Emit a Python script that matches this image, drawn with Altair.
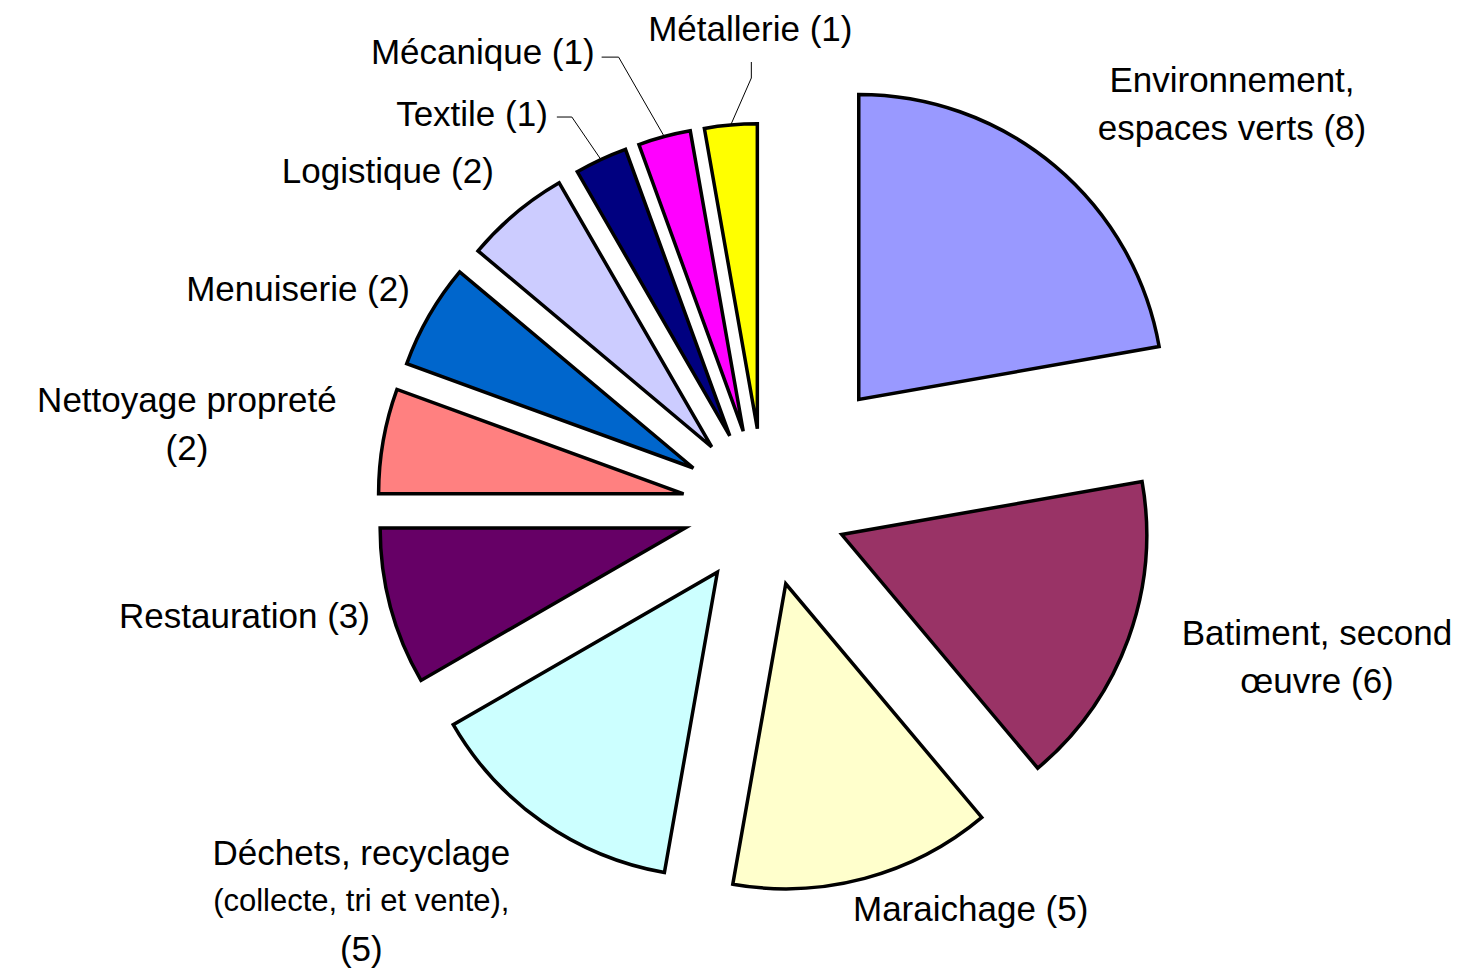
import altair as alt
import pandas as pd
import numpy as np

# ---------------- data ----------------
CATEGORIES = [
    "Environnement, espaces verts",
    "Batiment, second œuvre",
    "Maraichage",
    "Déchets, recyclage (collecte, tri et vente)",
    "Restauration",
    "Nettoyage propreté",
    "Menuiserie",
    "Logistique",
    "Textile",
    "Mécanique",
    "Métallerie",
]
VALUES = [8, 6, 5, 5, 3, 2, 2, 2, 1, 1, 1]
LABEL_LINES = [
    ["Environnement,", "espaces verts ({v})"],
    ["Batiment, second", "œuvre ({v})"],
    ["Maraichage ({v})"],
    ["Déchets, recyclage", "(collecte, tri et vente),", "({v})"],
    ["Restauration ({v})"],
    ["Nettoyage propreté", "({v})"],
    ["Menuiserie ({v})"],
    ["Logistique ({v})"],
    ["Textile ({v})"],
    ["Mécanique ({v})"],
    ["Métallerie ({v})"],
]

# ---------------- styles / layout ----------------
PALETTE = ["#9999FF", "#993366", "#FFFFCC", "#CCFFFF", "#660066", "#FF8080",
           "#0066CC", "#CCCCFF", "#000080", "#FF00FF", "#FFFF00"]
CX, CY = 756.5, 499.5          # pie centre inside the view
RADIUS = 305
EXPLODE_DEFAULT = 79
EXPLODE = {"Environnement, espaces verts": 141}
EXPLODE_XSTRETCH = 1.04
FONT = "Liberation Sans"
FS = 35
FS_SMALL = 31
LINE_H = 48
# label anchor: (polar angle deg from centre, distance px, align)
LABEL_POS = {
    "Environnement, espaces verts": (49.3, 616.6, "center"),
    "Batiment, second œuvre": (105.2, 572.5, "center"),
    "Maraichage": (167.6, 412.1, "left"),
    "Déchets, recyclage (collecte, tri et vente)": (225.6, 564.3, "center"),
    "Restauration": (254.5, 409.4, "right"),
    "Nettoyage propreté": (278.1, 583.4, "center"),
    "Menuiserie": (301.5, 415.9, "right"),
    "Logistique": (321.1, 431.0, "right"),
    "Textile": (331.1, 448.3, "right"),
    "Mécanique": (339.5, 485.1, "right"),
    "Métallerie": (358.3, 477.7, "center"),
}
# leader lines: offsets from label anchor for start and elbow
LEADERS = {
    "Textile": (9, 2, 24, 2),
    "Mécanique": (7, 4, 24, 4),
    "Métallerie": (1, 32, 1, 48),
}

# ---------------- slices ----------------
slices = pd.DataFrame({
    "cat": CATEGORIES,
    "value": VALUES,
    "order": list(range(len(CATEGORIES))),
    "explode": [EXPLODE.get(c, EXPLODE_DEFAULT) for c in CATEGORIES],
})

pie = (
    alt.Chart(slices)
    .transform_window(cum="sum(value)", sort=[alt.SortField("order")])
    .transform_joinaggregate(total="sum(value)")
    .transform_calculate(
        t0="2*PI*(datum.cum - datum.value)/datum.total",
        t1="2*PI*datum.cum/datum.total",
    )
    .transform_calculate(mid="(datum.t0 + datum.t1)/2")
    .transform_calculate(
        cx=f"{CX} + {EXPLODE_XSTRETCH}*datum.explode*sin(datum.mid)",
        cy=f"{CY} - datum.explode*cos(datum.mid)",
    )
    .mark_arc(radius=RADIUS, stroke="black", strokeWidth=3.5, strokeJoin="miter")
    .encode(
        x=alt.X("cx:Q", scale=None, axis=None),
        y=alt.Y("cy:Q", scale=None, axis=None),
        theta=alt.Theta("t0:Q", scale=None, stack=None),
        theta2="t1:Q",
        color=alt.Color("cat:N", scale=alt.Scale(domain=CATEGORIES, range=PALETTE), legend=None),
        order=alt.Order("order:Q"),
    )
)

# ---------------- leader lines ----------------
vals = np.array(VALUES, dtype=float)
cum = np.cumsum(vals)
mids = 2 * np.pi * (cum - vals / 2) / vals.sum()
seg_rows = []
for i, c in enumerate(CATEGORIES):
    if c not in LEADERS:
        continue
    ang, dist, _ = LABEL_POS[c]
    a = np.deg2rad(ang)
    ax, ay = CX + dist * np.sin(a), CY - dist * np.cos(a)
    sx, sy, ex, ey = LEADERS[c]
    p0 = (ax + sx, ay + sy)
    p1 = (ax + ex, ay + ey)
    ex_d = EXPLODE.get(c, EXPLODE_DEFAULT)
    p2 = (CX + (EXPLODE_XSTRETCH * ex_d + RADIUS) * np.sin(mids[i]),
          CY - (ex_d + RADIUS) * np.cos(mids[i]))
    seg_rows.append({"x": p0[0], "y": p0[1], "x2": p1[0], "y2": p1[1]})
    seg_rows.append({"x": p1[0], "y": p1[1], "x2": p2[0], "y2": p2[1]})
segs = pd.DataFrame(seg_rows)

leaders = alt.Chart(segs).mark_rule(color="black", strokeWidth=1).encode(
    x=alt.X("x:Q", scale=None, axis=None),
    y=alt.Y("y:Q", scale=None, axis=None),
    x2="x2:Q",
    y2="y2:Q",
)

# ---------------- labels ----------------
label_rows = []
for c, v, lines in zip(CATEGORIES, VALUES, LABEL_LINES):
    ang, dist, align = LABEL_POS[c]
    n = len(lines)
    for j, ln in enumerate(lines):
        small = ln.startswith("(collecte")
        label_rows.append({
            "cat": c, "text": ln.format(v=v), "line": j, "n": n,
            "ang": ang, "dist": dist, "align": align,
            "fs": FS_SMALL if small else FS,
        })
labels = pd.DataFrame(label_rows)

def text_layer(align):
    return (
        alt.Chart(labels)
        .transform_filter(alt.datum.align == align)
        .transform_calculate(
            lx=f"{CX} + datum.dist*sin(datum.ang*PI/180)",
            ly=f"{CY} - datum.dist*cos(datum.ang*PI/180) + (datum.line - (datum.n - 1)/2)*{LINE_H}",
        )
        .mark_text(align=align, baseline="middle", font=FONT, color="black")
        .encode(
            x=alt.X("lx:Q", scale=None, axis=None),
            y=alt.Y("ly:Q", scale=None, axis=None),
            text="text:N",
            size=alt.Size("fs:Q", scale=None, legend=None),
        )
    )

chart = (
    alt.layer(pie, leaders, text_layer("left"), text_layer("center"), text_layer("right"))
    .properties(width=1458, height=960, padding=0, autosize=alt.AutoSizeParams(type="none"),
                background="white")
    .configure_view(stroke=None)
)

chart.save("out.html", embed_options={"renderer": "svg", "actions": False})
